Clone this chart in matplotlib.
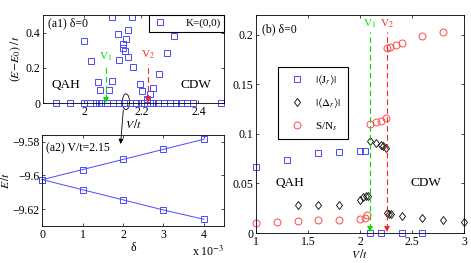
import numpy as np
import matplotlib
matplotlib.use('Agg')
import matplotlib.pyplot as plt
from matplotlib.patches import Ellipse, ConnectionPatch

plt.rcParams['font.family'] = 'serif'
plt.rcParams['font.serif'] = ['Liberation Serif', 'DejaVu Serif']
plt.rcParams['mathtext.fontset'] = 'stix'
plt.rcParams['font.size'] = 8.5

# ---- (a1) low-lying spectrum, K=(0,0) ----
v_exc = [2.00, 2.023, 2.048, 2.056, 2.085, 2.096, 2.097, 2.119, 2.12, 2.134, 2.136, 2.144,
         2.146, 2.153, 2.153, 2.167, 2.17, 2.194, 2.204, 2.22, 2.232, 2.241, 2.261, 2.29, 2.313]
e_exc = [0.352, 0.236, 0.12, 0.074, 0.074, 0.124, 0.487, 0.392, 0.242, 0.312, 0.337, 0.297,
         0.364, 0.413, 0.259, 0.487, 0.202, 0.109, 0.07, 0.02, 0.05, 0.087, 0.166, 0.284, 0.379]
v_gs = [1.90, 1.95, 2.00, 2.02, 2.04, 2.05, 2.06, 2.08, 2.10, 2.12, 2.14, 2.16, 2.18, 2.20,
        2.21, 2.22, 2.23, 2.24, 2.26, 2.28, 2.30, 2.32, 2.34, 2.36, 2.38, 2.48]
e_gs = [0.0] * len(v_gs)
v1_a, v2_a = 2.075, 2.222

# ---- (a2) energies vs delta at V/t=2.15 ----
delta = [0, 1, 2, 3, 4]   # in units of 1e-3
e_up = [-9.6025, -9.5965, -9.5905, -9.5845, -9.5785]
e_dn = [-9.6025, -9.6085, -9.6145, -9.6205, -9.6260]

# ---- (b) order parameters ----
v_J = [1.0, 1.3, 1.6, 1.8, 2.0, 2.05, 2.1, 2.2, 2.4, 2.6]
J = [0.0667, 0.0738, 0.0803, 0.082, 0.083, 0.0823, 0.0005, 0.0005, 0.0003, 0.0003]
v_D = [1.4, 1.6, 1.8, 2.0, 2.03, 2.06, 2.08, 2.1, 2.15, 2.2, 2.22, 2.25,
       2.26, 2.28, 2.30, 2.4, 2.6, 2.8, 3.0]
D = [0.0279, 0.0279, 0.0279, 0.0334, 0.0362, 0.0374, 0.0378, 0.0925, 0.0908, 0.0888, 0.0877, 0.086,
     0.0198, 0.0191, 0.0188, 0.017, 0.0153, 0.0136, 0.0116]
v_S = [1.0, 1.2, 1.4, 1.6, 1.8, 2.0, 2.05, 2.07, 2.1, 2.15, 2.2, 2.25,
       2.26, 2.29, 2.35, 2.4, 2.6, 2.8]
S = [0.0105, 0.0112, 0.0122, 0.0129, 0.0136, 0.0146, 0.0153, 0.018, 0.1096, 0.1116, 0.113, 0.1158,
     0.1864, 0.1878, 0.1898, 0.1918, 0.199, 0.2025]
v1_b, v2_b = 2.095, 2.255

blue = '#4a4aff'
red = '#ff4a4a'
W, H = 471.0, 263.0

def box(l, t, r, b):
    # pixel box -> figure fraction
    return [l / W, 1 - b / H, (r - l) / W, (b - t) / H]

def matlab_ticks(ax):
    ax.tick_params(direction='in', top=True, right=True, length=2.5, width=0.5, pad=2)
    for s in ax.spines.values():
        s.set_linewidth(0.6)

def marker_line(ax, x, y_head, y1, col, label, ylab):
    # dashed guide line ending in a filled arrow head
    ax.plot([x, x], [y_head, y1], '--', color=col, lw=0.8, dashes=(5, 3))
    ax.plot([x], [y_head], 'v', color=col, ms=4, mew=0, clip_on=False)
    ax.text(x, ylab, label, color=col, ha='center', va='center', fontsize=8)

fig = plt.figure(figsize=(W / 100, H / 100), dpi=100)

# panel a1
ax1 = fig.add_axes(box(43, 15, 224, 103))
ax1.plot(v_gs, e_gs, 's', mfc='none', mec=blue, ms=4, mew=0.7, clip_on=False)
ax1.plot(v_exc, e_exc, 's', mfc='none', mec=blue, ms=4, mew=0.7, label='K=(0,0)')
ax1.set_xlim(1.855, 2.49)
ax1.set_ylim(0, 0.5)
ax1.set_xticks([2, 2.2, 2.4])
ax1.set_xticklabels(['2', '2.2', '2.4'])
ax1.set_yticks([0, 0.2, 0.4])
ax1.set_yticklabels(['0', '0.2', '0.4'])
matlab_ticks(ax1)
ax1.set_xlabel(r'$V\,/t$', labelpad=0)
ax1.set_ylabel(r'$(E\!-\!E_0)\;/t$', labelpad=2)
marker_line(ax1, v1_a, 0.018, 0.215, '#00dd00', r'V$_1$', 0.265)
marker_line(ax1, v2_a, 0.018, 0.22, '#ff2222', r'V$_2$', 0.272)
ax1.text(0.03, 0.97, u'(a1) \u03b4=0', transform=ax1.transAxes, va='top', ha='left')
ax1.text(1.935, 0.1, 'QAH', ha='center', va='center', fontsize=9.5)
ax1.text(2.39, 0.1, 'CDW', ha='center', va='center', fontsize=9.5)
leg = ax1.legend(loc='upper right', borderaxespad=0, fancybox=False, edgecolor='k',
                 handlelength=1.5, handletextpad=1.5, borderpad=0.3, framealpha=1,
                 fontsize=8)
leg.get_frame().set_linewidth(0.8)
ax1.add_patch(Ellipse((2.146, 0.007), 0.025, 0.09, fill=False, ec='k', lw=0.6, clip_on=False))

# panel a2
ax2 = fig.add_axes(box(42.3, 135, 224, 226))
ax2.plot(delta, e_up, 's-', color=blue, mfc='none', ms=4, mew=0.7, lw=0.7, clip_on=False)
ax2.plot(delta, e_dn, 's-', color=blue, mfc='none', ms=4, mew=0.7, lw=0.7, clip_on=False)
ax2.set_xlim(0, 4.5)
ax2.set_ylim(-9.63, -9.576)
ax2.set_xticks([0, 1, 2, 3, 4])
ax2.set_yticks([-9.62, -9.6, -9.58])
ax2.set_yticklabels([u'\u22129.62', u'\u22129.6', u'\u22129.58'])
matlab_ticks(ax2)
ax2.set_xlabel(u'\u03b4', labelpad=1)
ax2.set_ylabel(r'$E\,/t$', labelpad=0)
ax2.text(0.02, 0.92, '(a2) V/t=2.15', transform=ax2.transAxes, va='top', ha='left')
ax2.text(1.0, -0.28, r'x 10$^{-3}$', transform=ax2.transAxes, ha='right', va='center')

# arrow from the ellipse in a1 down into a2
con = ConnectionPatch(xyA=(123.3 / W, 1 - 110 / H), coordsA='figure fraction',
                      xyB=(120.6 / W, 1 - 144 / H), coordsB='figure fraction',
                      arrowstyle='-|>', color='k', lw=0.6, mutation_scale=7)
fig.add_artist(con)

# panel b
ax3 = fig.add_axes(box(256, 15, 464, 233))
ax3.plot(v_J, J, 's', mfc='none', mec=blue, ms=4, mew=0.7, label=r'$|\langle\mathrm{J}_r\rangle|$',
         clip_on=False)
ax3.plot(v_D, D, 'd', mfc='none', mec='k', ms=4.5, mew=0.6, label=r'$|\langle\Delta_r\rangle|$',
         clip_on=False)
ax3.plot(v_S, S, 'o', mfc='none', mec=red, ms=5, mew=0.7, label=r'S/N$_s$', clip_on=False)
ax3.set_xlim(1, 3)
ax3.set_ylim(0, 0.22)
ax3.set_xticks([1, 1.5, 2, 2.5, 3])
ax3.set_xticklabels(['1', '1.5', '2', '2.5', '3'])
ax3.set_yticks([0, 0.05, 0.1, 0.15, 0.2])
ax3.set_yticklabels(['0', '0.05', '0.1', '0.15', '0.2'])
matlab_ticks(ax3)
ax3.set_xlabel(r'$V\,/t$', labelpad=0)
marker_line(ax3, v1_b, 0.0045, 0.203, '#00dd00', r'V$_1$', 0.211)
marker_line(ax3, v2_b, 0.0045, 0.203, '#ff2222', r'V$_2$', 0.211)
ax3.text(0.03, 0.96, u'(b) \u03b4=0', transform=ax3.transAxes, va='top', ha='left')
ax3.text(1.33, 0.05, 'QAH', ha='center', va='center', fontsize=9.5)
ax3.text(2.63, 0.05, 'CDW', ha='center', va='center', fontsize=9.5)
leg3 = ax3.legend(loc='upper left', bbox_to_anchor=(0.104, 0.763), borderaxespad=0,
                  fancybox=False, edgecolor='k', handlelength=2.2, handletextpad=0.6,
                  borderpad=0.6, labelspacing=0.9, framealpha=1, fontsize=8)
leg3.get_frame().set_linewidth(0.8)

fig.savefig('out.png', dpi=100)
